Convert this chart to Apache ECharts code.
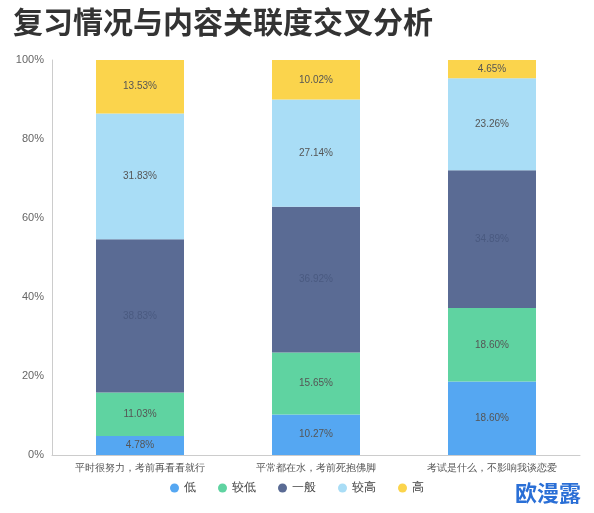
<!DOCTYPE html>
<html><head><meta charset="utf-8">
<script src="https://cdn.jsdelivr.net/npm/echarts@6/dist/echarts.min.js"></script>
<style>body{margin:0;background:#fff}#c{width:594px;height:513px}</style>
</head><body><div id="c"></div>
<script>
const categories = ['平时很努力，考前再看看就行','平常都在水，考前死抱佛脚','考试是什么，不影响我谈恋爱'];
const seriesNames = ['低','较低','一般','较高','高'];
const low = [4.78, 10.27, 18.60];
const lowish = [11.03, 15.65, 18.60];
const mid = [38.83, 36.92, 34.89];
const highish = [31.83, 27.14, 23.26];
const high = [13.53, 10.02, 4.65];
const colors = ['#55a7f2','#5fd3a1','#5a6b94','#a9ddf6','#fbd44c'];
const values = [low, lowish, mid, highish, high];
const chart = echarts.init(document.getElementById('c'));
chart.setOption({
  title:[{text:'复习情况与内容关联度交叉分析',left:8,top:2,textStyle:{fontSize:30,fontWeight:'bold',color:'#333',fontFamily:'Noto Sans CJK SC'}},
         {text:'欧漫露',right:8,bottom:4,textStyle:{fontSize:22,fontWeight:'bold',color:'#2a6fd6',fontFamily:'Noto Sans CJK SC'}}],
  grid:{left:52,right:14,top:60,bottom:58},
  legend:{bottom:14,left:'center',icon:'circle',itemWidth:9,itemHeight:9,itemGap:22,textStyle:{fontSize:12,color:'#444'},data:seriesNames},
  xAxis:{type:'category',data:categories,axisTick:{show:false},axisLine:{lineStyle:{color:'#ccc'}},axisLabel:{interval:0,fontSize:10,color:'#555'}},
  yAxis:{type:'value',min:0,max:100,interval:20,axisLabel:{formatter:'{value}%',fontSize:11,color:'#666'},splitLine:{show:false},axisLine:{show:true,lineStyle:{color:'#ccc'}}},
  series:values.map((v,i)=>({name:seriesNames[i],type:'bar',stack:'a',barWidth:88,data:v,
    itemStyle:{color:colors[i]},
    label:{show:true,position:'inside',formatter:p=>p.value.toFixed(2)+'%',fontSize:10,color:i===2?'#4a5a80':'#555'}}))
});
</script></body></html>
